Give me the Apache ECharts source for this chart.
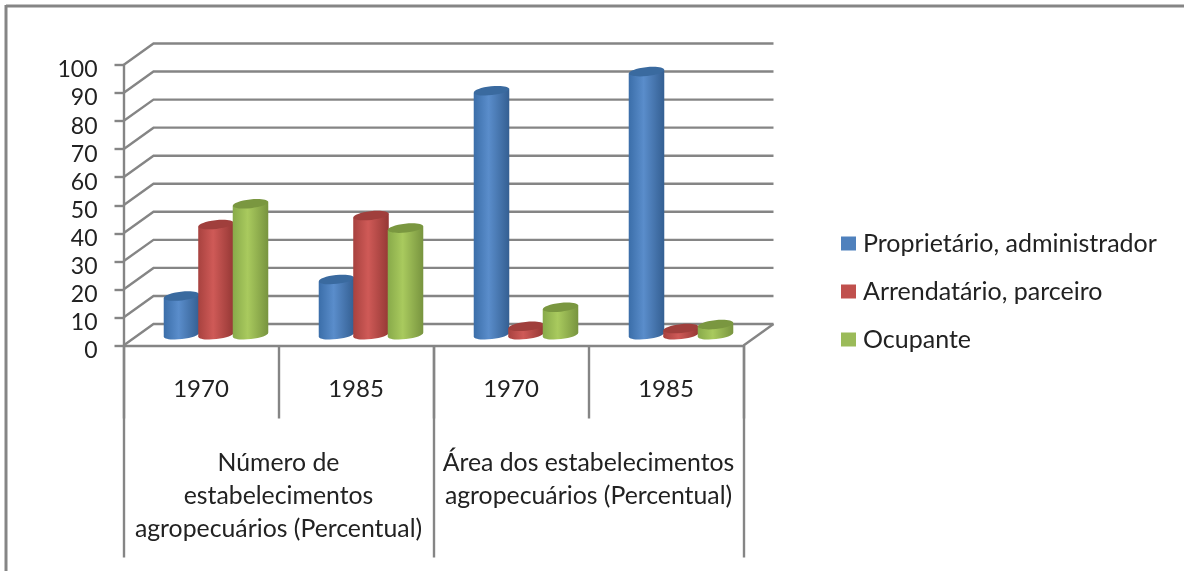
<!DOCTYPE html>
<html><head><meta charset="utf-8">
<style>html,body{margin:0;padding:0;background:#fff}#c{width:1184px;height:571px;filter:blur(0.5px)}</style>
<script src="https://cdn.jsdelivr.net/npm/echarts@6/dist/echarts.min.js"></script></head>
<body><div id="c"></div>
<script>
const years = ['1970','1985','1970','1985'];
const groups = ['Número de\nestabelecimentos\nagropecuários (Percentual)','Área dos estabelecimentos\nagropecuários (Percentual)'];
const seriesNames = ['Proprietário, administrador','Arrendatário, parceiro','Ocupante'];
const proprietario = [13.8,19.7,87,93.8];
const arrendatario = [39.3,42.5,3,2.2];
const ocupante = [46.7,38,9.8,3.6];
const wallTicks = [0,10,20,30,40,50,60,70,80,90,100];

const FONT = 'Lato';
const LINE = '#858585', TEXT = '#222222';
const DX = 30, DY = -21.5, TILT = 0.11, RY = 4.4;
const palettes = [
  {legend:'#4f81bd',edge1:'#3b6ea9',mid:'#5a8dcb',edge2:'#345f92',top:'#3a6a9f'},
  {legend:'#c0504d',edge1:'#a8423f',mid:'#cf5a57',edge2:'#953835',top:'#a03f3c'},
  {legend:'#9bbb59',edge1:'#88aa4a',mid:'#a9ca5e',edge2:'#78943f',top:'#7a9740'}
];
const values = [proprietario,arrendatario,ocupante];

function cylinder(s){
  const p = palettes[s];
  return function(params, api){
    const cat = api.value(0), v = api.value(1);
    const band = api.size([1,0])[0];
    const slot = band*0.2226, r = slot*0.515;
    const c0 = api.coord([cat,0]), c1 = api.coord([cat,v]);
    const cx = c0[0] + DX/2 + (s-1)*slot;
    const yb = c0[1] + DY/2, yt = c1[1] + DY/2;
    const tx = r*Math.sin(TILT);
    const grad = new echarts.graphic.LinearGradient(0,0,1,0,[
      {offset:0,color:p.edge1},{offset:0.42,color:p.mid},{offset:1,color:p.edge2}]);
    return {type:'group',children:[
      {type:'ellipse',shape:{cx:cx,cy:yb,rx:r,ry:RY},rotation:TILT,originX:cx,originY:yb,style:{fill:grad}},
      {type:'polygon',shape:{points:[[cx-r,yt+tx],[cx+r,yt-tx],[cx+r,yb-tx],[cx-r,yb+tx]]},style:{fill:grad}},
      {type:'ellipse',shape:{cx:cx,cy:yt,rx:r,ry:RY},rotation:TILT,originX:cx,originY:yt,style:{fill:p.top}}
    ]};
  };
}
function wall(params, api){
  const cs = params.coordSys, v = api.value(0);
  const y = api.coord([0,v])[1], l = cs.x, rr = cs.x+cs.width;
  const ch = [{type:'polyline',shape:{points:[[l,y],[l+DX,y+DY],[rr+DX,y+DY]]},style:{fill:'none',stroke:LINE,lineWidth:2.4}}];
  if(v===0) ch.push({type:'line',shape:{x1:rr,y1:y,x2:rr+DX,y2:y+DY},style:{stroke:LINE,lineWidth:2.4}});
  return {type:'group',children:ch};
}
const series = [{type:'custom',name:'wall',renderItem:wall,data:wallTicks.map(v=>[v]),encode:{y:0},clip:false,silent:true,z:1,xAxisIndex:0,yAxisIndex:0}];
seriesNames.forEach((n,s)=>series.push({
  type:'custom',name:n,renderItem:cylinder(s),clip:false,z:3+s,
  itemStyle:{color:palettes[s].legend},
  data:values[s].map((v,i)=>[i,v]),encode:{x:0,y:1}
}));
const chart = echarts.init(document.getElementById('c'),null,{renderer:'canvas'});
chart.setOption({
  animation:false,backgroundColor:'#fff',
  grid:{left:123.5,top:65,width:620,height:280.5},
  xAxis:[
    {type:'category',data:years,position:'bottom',
     axisLine:{show:true,lineStyle:{color:LINE,width:2.4}},
     axisTick:{show:true,length:73,lineStyle:{color:LINE,width:2.4}},
     axisLabel:{interval:0,color:TEXT,fontFamily:FONT,fontSize:24,margin:32},splitLine:{show:false}},
    {type:'category',data:groups,position:'bottom',
     axisLine:{show:false},
     axisTick:{show:true,length:212,lineStyle:{color:LINE,width:2.4}},
     axisLabel:{interval:0,color:TEXT,fontFamily:FONT,fontSize:24.8,lineHeight:33,margin:101,verticalAlign:'top'},splitLine:{show:false}}
  ],
  yAxis:{type:'value',min:0,max:100,interval:10,
    axisLine:{show:true,lineStyle:{color:LINE,width:2.4}},
    axisTick:{show:true,length:9,lineStyle:{color:LINE,width:2.4}},
    axisLabel:{color:TEXT,fontFamily:FONT,fontSize:23,margin:26,verticalAlign:'top',lineHeight:10},splitLine:{show:false}},
  legend:{data:seriesNames.map(n=>({name:n,icon:'rect'})),orient:'vertical',left:836,top:226,itemWidth:15,itemHeight:14,itemGap:23,
    textStyle:{color:TEXT,fontFamily:FONT,fontSize:25,padding:[0,0,0,2]},selectedMode:false},
  graphic:[
    {type:'line',shape:{x1:6,y1:6,x2:1184,y2:6},style:{stroke:LINE,lineWidth:3}},
    {type:'line',shape:{x1:6,y1:5,x2:6,y2:571},style:{stroke:LINE,lineWidth:3}}
  ],
  series:series
});
</script></body></html>
